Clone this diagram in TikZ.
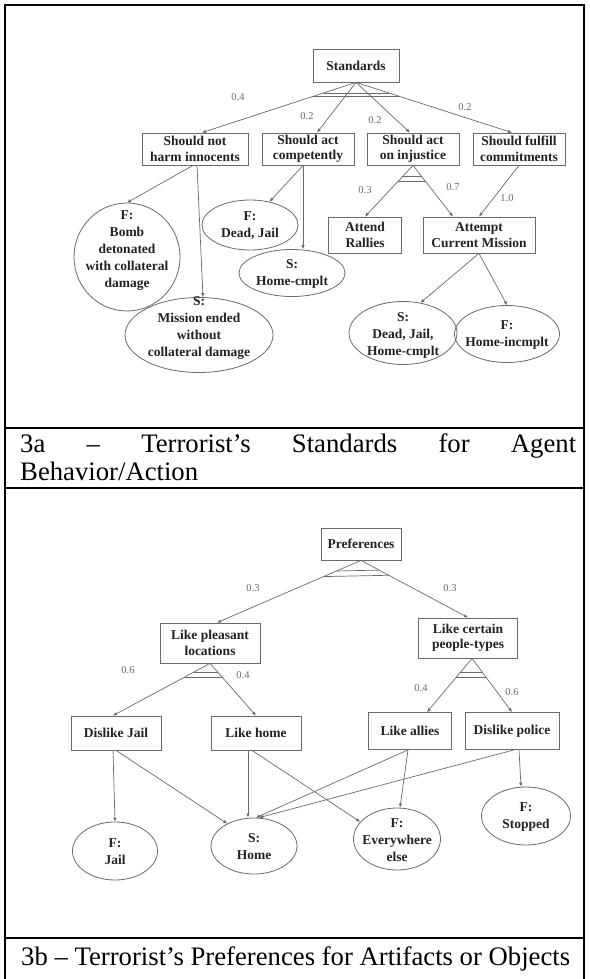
\documentclass[tikz,border=0pt]{standalone}
\usepackage{fontspec}
\setmainfont{Liberation Serif}
\usetikzlibrary{arrows.meta,shapes.geometric,calc}
\definecolor{ln}{HTML}{6A6A6A}
\definecolor{tx}{HTML}{222222}
\newcommand\myoval[6]{%
  \node[oval,minimum width=#3,minimum height=#4] (#1) at (#2) {};
  \node[ovtext] (#1t) at (#5) {#6};}
\begin{document}
\begin{tikzpicture}[x=1pt,y=-1pt,
  box/.style={draw=ln,line width=0.8pt,rectangle,inner sep=0pt,align=center,text=tx,font=\bfseries\fontsize{13.5}{15.5}\selectfont},
  oval/.style={draw=ln,line width=0.8pt,ellipse,inner sep=0pt},
  ovtext/.style={inner sep=0pt,align=center,text=tx,font=\bfseries\fontsize{13.5}{17}\selectfont},
  conn/.style={draw=ln,line width=0.7pt,-{Latex[length=4pt,width=3.5pt]}},
  andbar/.style={draw=ln,line width=0.7pt},
  wt/.style={text=ln,font=\fontsize{10.5}{12}\selectfont,inner sep=0pt},
  hrule/.style={line width=2.6pt,black},
  captxt/.style={anchor=base west,inner sep=0pt,font=\fontsize{26.7}{29}\selectfont}]
\useasboundingbox (0,0) rectangle (589,979);
\fill[white] (0,0) rectangle (589,979);

% frame and rules
\draw[hrule,line join=miter] (5,979) -- (5,5) -- (584,5) -- (584,979);
\draw[hrule] (5,428) -- (584,428);
\draw[hrule] (5,488) -- (584,488);
\draw[hrule] (5,938) -- (584,938);

% captions
\node[captxt] (c1) at (20,452) {\makebox[556pt][s]{3a – Terrorist’s Standards for Agent}};
\node[captxt] (c2) at (20,480) {Behavior/Action};
\node[captxt] (c3) at (21,965) {3b – Terrorist’s Preferences for Artifacts or Objects};

% ---------- 3a ----------
\node[box,minimum width=86,minimum height=33] (std) at (356,65.5) {Standards};
\node[box,minimum width=106,minimum height=32] (b1) at (195,149) {Should not\\harm innocents};
\node[box,minimum width=92,minimum height=32] (b2) at (308,149) {Should act\\competently};
\node[box,minimum width=92,minimum height=32] (b3) at (413,149) {Should act\\on injustice};
\node[box,minimum width=92,minimum height=32] (b4) at (519,149) {Should fulfill\\commitments};
\node[box,minimum width=73,minimum height=36] (ar) at (365,235) {Attend\\Rallies};
\node[box,minimum width=112,minimum height=36] (ac) at (479,235) {Attempt\\Current Mission};

\myoval{e1}{127,257}{106}{108}{127,251}{F:\\Bomb\\detonated\\with collateral\\damage}
\myoval{e2}{199,335}{148}{75}{199,328}{S:\\Mission ended\\without\\collateral damage}
\myoval{e3}{250,225}{96}{50}{250,226}{F:\\Dead, Jail}
\myoval{e4}{292,273}{106}{47}{292,274}{S:\\Home-cmplt}
\myoval{e5}{403,333}{108}{63}{403,335}{S:\\Dead, Jail,\\Home-cmplt}
\myoval{e6}{507,334}{105}{57}{507,335}{F:\\Home-incmplt}

\coordinate (b1n) at ([xshift=7pt]b1.north);
\coordinate (b2n) at ([xshift=9pt]b2.north);
\coordinate (b3n) at ([xshift=-3pt]b3.north);
\coordinate (b4n) at ([xshift=-7pt]b4.north);
\draw[conn] (std.south) -- (b1n);
\draw[conn] (std.south) -- (b2n);
\draw[conn] (std.south) -- (b3n);
\draw[conn] (std.south) -- (b4n);
\draw[andbar] ($(std.south)!0.21!(b1n)$) -- ($(std.south)!0.21!(b4n)$);
\draw[andbar] ($(std.south)!0.28!(b1n)$) -- ($(std.south)!0.28!(b4n)$);

\coordinate (acn) at ([xshift=-26pt]ac.north);
\draw[conn] (b3.south) -- (ar.north);
\draw[conn] (b3.south) -- (acn);
\draw[andbar] ($(b3.south)!0.22!(ar.north)$) -- ($(b3.south)!0.22!(acn)$);
\draw[andbar] ($(b3.south)!0.32!(ar.north)$) -- ($(b3.south)!0.32!(acn)$);
\draw[conn] (b4.south) -- (ac.north);

\draw[conn] ([xshift=-2pt]b1.south) -- (e1.north);
\draw[conn] ([xshift=2pt]b1.south) -- ([xshift=4pt]e2.north);
\draw[conn] ([xshift=-5pt]b2.south) -- (e3.50);
\draw[conn] ([xshift=-5pt]b2.south) -- ([xshift=11pt]e4.north);
\draw[conn] (ac.south) -- (e5.60);
\draw[conn] (ac.south) -- (e6.north);

\node[wt] (w1) at (238,97) {0.4};
\node[wt] (w2) at (307,116) {0.2};
\node[wt] (w3) at (375,120) {0.2};
\node[wt] (w4) at (465,107) {0.2};
\node[wt] (w5) at (365,190) {0.3};
\node[wt] (w6) at (453,187) {0.7};
\node[wt] (w7) at (507,198) {1.0};

% ---------- 3b ----------
\node[box,minimum width=80,minimum height=32] (pref) at (361,544) {Preferences};
\node[box,minimum width=100,minimum height=40] (lp) at (210,643) {Like pleasant\\locations};
\node[box,minimum width=99,minimum height=40] (lc) at (468,638) {Like certain\\people-types};
\node[box,minimum width=90,minimum height=34] (dj) at (116,733) {Dislike Jail};
\node[box,minimum width=90,minimum height=34] (lh) at (256,733) {Like home};
\node[box,minimum width=83,minimum height=37] (la) at (410,731) {Like allies};
\node[box,minimum width=94,minimum height=37] (dp) at (512,731) {Dislike police};

\myoval{fj}{115,851}{85}{58}{115,852}{F:\\Jail}
\myoval{sh}{254,846}{86}{56}{254,847}{S:\\Home}
\myoval{fe}{397,839}{87}{62}{397,840}{F:\\Everywhere\\else}
\myoval{fs}{526,816}{89}{58}{526,817}{F:\\Stopped}

\coordinate (lpn) at ([xshift=7pt]lp.north);
\draw[conn] (pref.south) -- (lpn);
\draw[conn] (pref.south) -- (lc.north);
\draw[andbar] ($(pref.south)!0.17!(lpn)$) -- ($(pref.south)!0.17!(lc.north)$);
\draw[andbar] ($(pref.south)!0.26!(lpn)$) -- ($(pref.south)!0.26!(lc.north)$);

\coordinate (djn) at ([xshift=-3pt]dj.north);
\draw[conn] (lp.south) -- (djn);
\draw[conn] (lp.south) -- (lh.north);
\draw[andbar] ($(lp.south)!0.17!(djn)$) -- ($(lp.south)!0.17!(lh.north)$);
\draw[andbar] ($(lp.south)!0.26!(djn)$) -- ($(lp.south)!0.26!(lh.north)$);

\coordinate (lcs) at ([xshift=4pt]lc.south);
\coordinate (lan) at ([xshift=17pt]la.north);
\draw[conn] (lcs) -- (lan);
\draw[conn] (lcs) -- (dp.north);
\draw[andbar] ($(lcs)!0.26!(lan)$) -- ($(lcs)!0.26!(dp.north)$);
\draw[andbar] ($(lcs)!0.36!(lan)$) -- ($(lcs)!0.36!(dp.north)$);

\draw[conn] ([xshift=-3pt]dj.south) -- (fj.north);
\draw[conn] (dj.south) -- (sh.140);
\draw[conn] ([xshift=-8pt]lh.south) -- ([xshift=-6pt]sh.north);
\draw[conn] ([xshift=-4pt]lh.south) -- (fe.155);
\draw[conn] ([xshift=-2pt]la.south) -- ([xshift=2pt]sh.north);
\draw[conn] ([xshift=-2pt]la.south) -- ([xshift=3pt]fe.north);
\draw[conn] ([xshift=2pt]dp.south) -- ([xshift=5pt]sh.north);
\draw[conn] ([xshift=7pt]dp.south) -- ([xshift=-5pt]fs.north);

\node[wt] (v1) at (253,588) {0.3};
\node[wt] (v2) at (450,588) {0.3};
\node[wt] (v3) at (128,670) {0.6};
\node[wt] (v4) at (243,675) {0.4};
\node[wt] (v5) at (421,688) {0.4};
\node[wt] (v6) at (512,692) {0.6};
\end{tikzpicture}
\end{document}
